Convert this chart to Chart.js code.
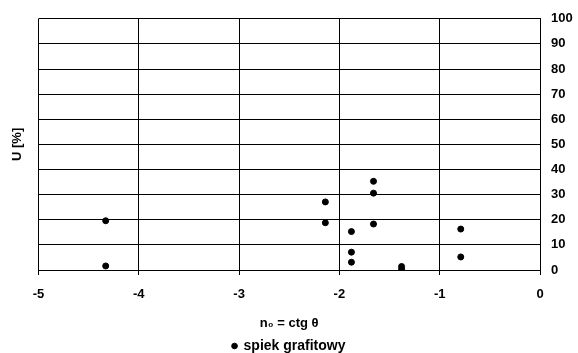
<!DOCTYPE html>
<html>
<head>
<meta charset="utf-8">
<script src="https://cdn.jsdelivr.net/npm/chart.js@4/dist/chart.umd.min.js"></script>
<style>
  html, body { margin: 0; padding: 0; background: #fff; }
  #wrap { width: 578px; height: 353px; }
</style>
</head>
<body>
<div id="wrap"><canvas id="myChart"></canvas></div>
<script>
// n0 = ctg theta values and U [%]
const xValues = [-4.33, -4.33, -2.14, -2.14, -1.88, -1.88, -1.88, -1.66, -1.66, -1.66, -1.38, -1.38, -0.79, -0.79];
const yValues = [19.6, 1.6, 27.1, 18.8, 15.3, 7.1, 3.1, 35.3, 30.6, 18.3, 1.4, 0.3, 16.3, 5.2];
const xTicks = [-5, -4, -3, -2, -1, 0];
const yTicks = [0, 10, 20, 30, 40, 50, 60, 70, 80, 90, 100];
const seriesName = "spiek grafitowy";

const points = xValues.map((x, i) => ({ x: x, y: yValues[i] }));
const boldFont = { family: "'Liberation Sans', Arial, sans-serif", size: 13, weight: "bold" };
const legendFont = { family: "'Liberation Sans', Arial, sans-serif", size: 14, weight: "bold" };

Chart.defaults.color = "#000";
Chart.defaults.font = boldFont;

new Chart("myChart", {
  type: "scatter",
  data: {
    datasets: [{
      label: seriesName,
      data: points,
      backgroundColor: "#000",
      borderColor: "#000",
      pointRadius: 3,
      pointHoverRadius: 3
    }]
  },
  options: {
    responsive: true,
    maintainAspectRatio: false,
    animation: false,
    layout: { padding: { top: 15, right: 0, left: 0, bottom: -10 } },
    plugins: {
      tooltip: { enabled: false },
      legend: {
        position: "bottom",
        labels: {
          usePointStyle: true,
          pointStyle: "circle",
          boxWidth: 4,
          boxHeight: 4,
          padding: 2,
          font: legendFont,
          color: "#000"
        }
      }
    },
    scales: {
      x: {
        type: "linear",
        min: -5,
        max: 0,
        afterBuildTicks: (axis) => { axis.ticks = xTicks.map(v => ({ value: v })); },
        grid: { color: "#000", lineWidth: 1, tickLength: 5, drawTicks: true },
        border: { color: "#000", width: 1 },
        ticks: { padding: 12, font: boldFont, color: "#000" },
        title: { display: true, text: "n\u2080 = ctg \u03B8", font: boldFont, color: "#000", padding: { top: 14, bottom: 6 } },
        afterFit: (axis) => { axis.height = 67; }
      },
      y: {
        type: "linear",
        position: "right",
        min: 0,
        max: 100,
        afterBuildTicks: (axis) => { axis.ticks = yTicks.map(v => ({ value: v })); },
        grid: { color: "#000", lineWidth: 1, drawTicks: false },
        border: { color: "#000", width: 1 },
        ticks: { padding: 11, font: boldFont, color: "#000" },
        afterFit: (axis) => { axis.width = 38; }
      },
      yTitle: {
        type: "linear",
        position: "left",
        min: 0,
        max: 100,
        grid: { display: false, drawTicks: false },
        border: { display: false },
        ticks: { display: false },
        title: { display: true, text: "U [%]", font: boldFont, color: "#000", padding: { top: 10, bottom: 0 } },
        afterFit: (axis) => { axis.width = 38.5; }
      }
    }
  }
});
</script>
</body>
</html>
